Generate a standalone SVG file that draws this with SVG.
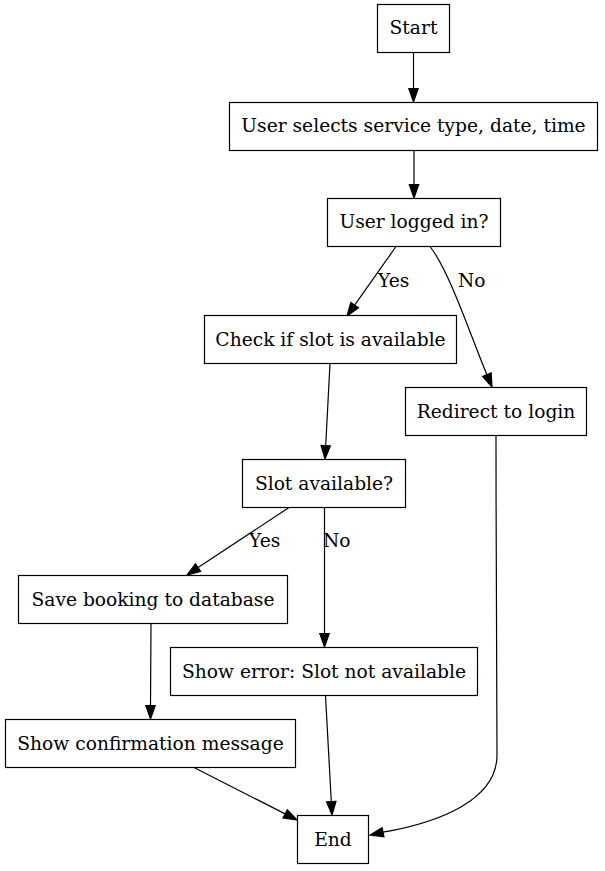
<svg xmlns="http://www.w3.org/2000/svg" width="605" height="871" viewBox="0 0 605 871">
<style>
.n rect{fill:#fff;stroke:#000;stroke-width:1.2}
text{font-family:"DejaVu Serif","Liberation Serif",serif;font-size:18.67px;fill:#000}
.n text{text-anchor:middle}
.e path{fill:none;stroke:#000;stroke-width:1.2}
.e polygon{fill:#000;stroke:#000;stroke-width:1.2}
</style>
<rect width="605" height="871" fill="#fff"/>
<g id="connectors" class="e">
<path d="M413.5,52.5 L413.5,88.7"/><polygon points="408.8,88.7 418.2,88.7 413.5,102"/>
<path d="M414,150.5 L414,184.7"/><polygon points="409.3,184.7 418.7,184.7 414,198"/>
<path d="M396,246.5 L354.65,305.07"/><polygon points="358.5,307.8 350.8,302.4 347,316"/>
<text x="378" y="287">Yes</text>
<path d="M430,246.5 C450,272 471.3,337.9 486.9,374.7"/><polygon points="491.2,372.9 482.6,376.5 492,387"/>
<text x="458" y="287">No</text>
<path d="M330,363.5 L325.7,445.7"/><polygon points="330.4,445.9 321,445.4 325,459"/>
<path d="M289,507.5 L198.1,567.6"/><polygon points="200.7,571.5 195.5,563.7 187,575"/>
<text x="249" y="547">Yes</text>
<path d="M324.5,507.5 L324.5,633.7"/><polygon points="319.8,633.7 329.2,633.7 324.5,647"/>
<text x="323" y="547">No</text>
<path d="M151,623.5 L150.5,705.7"/><polygon points="145.8,705.7 155.2,705.7 150.5,719"/>
<path d="M325.5,695.5 L331.3,801.7"/><polygon points="336,801.4 326.6,801.9 332,815"/>
<path d="M194,767.5 L285.15,813.9"/><polygon points="287.3,809.75 283,818.05 297,820"/>
<path d="M496,435.5 C496,560 497,700 497,755 C497,800 440,822 383.05,832.2"/><polygon points="384,836.8 382.1,827.6 370,835"/>
</g>
<g id="start" class="n"><rect x="377.5" y="4.5" width="72" height="48"/><text x="413.5" y="34">Start</text></g>
<g id="select" class="n"><rect x="229.5" y="102.5" width="368" height="48"/><text x="413.5" y="132">User selects service type, date, time</text></g>
<g id="logged" class="n"><rect x="327.5" y="198.5" width="173" height="48"/><text x="414" y="228">User logged in?</text></g>
<g id="check" class="n"><rect x="204.5" y="315.5" width="252" height="48"/><text x="330.5" y="345.5">Check if slot is available</text></g>
<g id="redirect" class="n"><rect x="405.5" y="387.5" width="181" height="48"/><text x="496" y="417.5">Redirect to login</text></g>
<g id="slot" class="n"><rect x="242.5" y="459.5" width="163" height="48"/><text x="324" y="489.5">Slot available?</text></g>
<g id="save" class="n"><rect x="18.5" y="575.5" width="269" height="48"/><text x="153" y="605.5">Save booking to database</text></g>
<g id="error" class="n"><rect x="170.5" y="647.5" width="307" height="48"/><text x="324" y="677.5">Show error: Slot not available</text></g>
<g id="confirm" class="n"><rect x="5.5" y="719.5" width="290" height="48"/><text x="150.5" y="749.5">Show confirmation message</text></g>
<g id="end" class="n"><rect x="297.5" y="815.5" width="71" height="48"/><text x="333" y="845.5">End</text></g>
</svg>
